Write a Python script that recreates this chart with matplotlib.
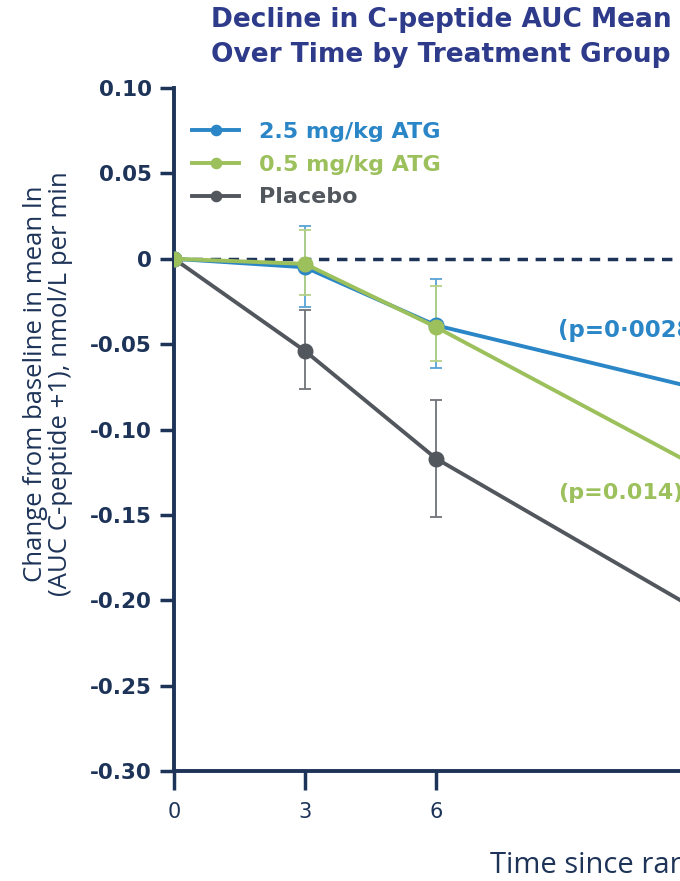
import numpy as np
import matplotlib.pyplot as plt

months = [0, 3, 6, 12]

atg25 = [0.0, -0.005, -0.039, -0.076]
atg25_lo = [0.0, -0.028, -0.064, np.nan]
atg25_hi = [0.0, 0.019, -0.012, np.nan]

atg05 = [0.0, -0.003, -0.040, -0.122]
atg05_lo = [0.0, -0.021, -0.060, np.nan]
atg05_hi = [0.0, 0.017, -0.016, np.nan]

placebo = [0.0, -0.054, -0.117, -0.206]
placebo_lo = [0.0, -0.076, -0.151, np.nan]
placebo_hi = [0.0, -0.030, -0.083, np.nan]

yticks = [0.10, 0.05, 0, -0.05, -0.10, -0.15, -0.20, -0.25, -0.30]
ytick_labels = ["0.10", "0.05", "0", "-0.05", "-0.10", "-0.15", "-0.20", "-0.25", "-0.30"]
xticks = [0, 3, 6, 12]
xtick_labels = ["0", "3", "6", "12"]

navy = "#1d3358"
blue = "#2a86c6"
green = "#9cc05c"
grey = "#52575e"

fig = plt.figure(figsize=(6.8, 8.81), dpi=100)
W, H = 680.0, 881.0
x0_px, x_per_month = 174.0, 43.67
xmax = 13
ax = fig.add_axes([x0_px / W, 110 / H, xmax * x_per_month / W, 683 / H])

ax.axhline(0, color=navy, lw=2.5, ls=(0, (3, 2.2)), zorder=1)


def err(mean, lo, hi):
    m = np.array(mean)
    return np.vstack([m - np.array(lo), np.array(hi) - m])


ax.errorbar(months, placebo, yerr=err(placebo, placebo_lo, placebo_hi), fmt="none",
            ecolor="#707479", elinewidth=1.3, capsize=4.5, capthick=1.3, zorder=2)
ax.errorbar(months, atg25, yerr=err(atg25, atg25_lo, atg25_hi), fmt="none",
            ecolor="#5aa4d6", elinewidth=1.3, capsize=4.5, capthick=1.3, zorder=2)
ax.errorbar(months, atg05, yerr=err(atg05, atg05_lo, atg05_hi), fmt="none",
            ecolor="#b5d188", elinewidth=1.3, capsize=4.5, capthick=1.3, zorder=2)

ax.plot(months, placebo, color=grey, lw=2.8, marker="o", ms=10.5, zorder=3, label="Placebo")
ax.plot(months, atg25, color=blue, lw=2.8, marker="o", ms=10.5, zorder=4, label="2.5 mg/kg ATG")
ax.plot(months, atg05, color=green, lw=2.8, marker="o", ms=10.5, zorder=5, label="0.5 mg/kg ATG")

handles, labels = ax.get_legend_handles_labels()
order = [1, 2, 0]
leg = ax.legend([handles[i] for i in order], [labels[i] for i in order],
                loc="upper left", bbox_to_anchor=(-0.003, 0.980), frameon=False,
                prop={"weight": "bold", "size": 16}, labelcolor="linecolor",
                handlelength=2.1, handletextpad=0.9, labelspacing=0.58, markerscale=0.7)

ax.text(8.8, -0.042, "(p=0·0028)", color=blue, fontsize=16.5, fontweight="bold", va="center")
ax.text(8.8, -0.137, "(p=0.014)", color=green, fontsize=16, fontweight="bold", va="center")

ax.set_xlim(0, xmax)
ax.set_ylim(-0.30, 0.10)
ax.set_yticks(yticks)
ax.set_yticklabels(ytick_labels, fontsize=15.5, fontweight="bold", color=navy)
ax.set_xticks(xticks)
ax.set_xticklabels(xtick_labels, fontsize=15, color=navy)
ax.tick_params(axis="y", direction="out", length=10, width=2.5, color=navy, pad=6)
ax.tick_params(axis="x", direction="out", length=14, width=2.5, color=navy, pad=8)
for s in ["top", "right"]:
    ax.spines[s].set_visible(False)
for s in ["left", "bottom"]:
    ax.spines[s].set_color(navy)
    ax.spines[s].set_linewidth(2.8)

ax.set_ylabel("Change from baseline in mean ln\n(AUC C-peptide +1), nmol/L per min",
              fontsize=18.5, color=navy, family=["Open Sans", "DejaVu Sans"],
              linespacing=1.0)
ax.yaxis.set_label_coords(-0.178, (771 - 384) / 683)

fig.text(490 / W, 1 - 865 / H, "Time since randomisation (months)", fontsize=21,
         color=navy, family=["Open Sans", "DejaVu Sans"], ha="left", va="center")

fig.text(441 / W, 1 - 20 / H, "Decline in C-peptide AUC Mean", fontsize=19,
         fontweight="bold", color="#2e3a8a", ha="center", va="center")
fig.text(441 / W, 1 - 55 / H, "Over Time by Treatment Group", fontsize=19,
         fontweight="bold", color="#2e3a8a", ha="center", va="center")

fig.savefig("out.png", dpi=100)
